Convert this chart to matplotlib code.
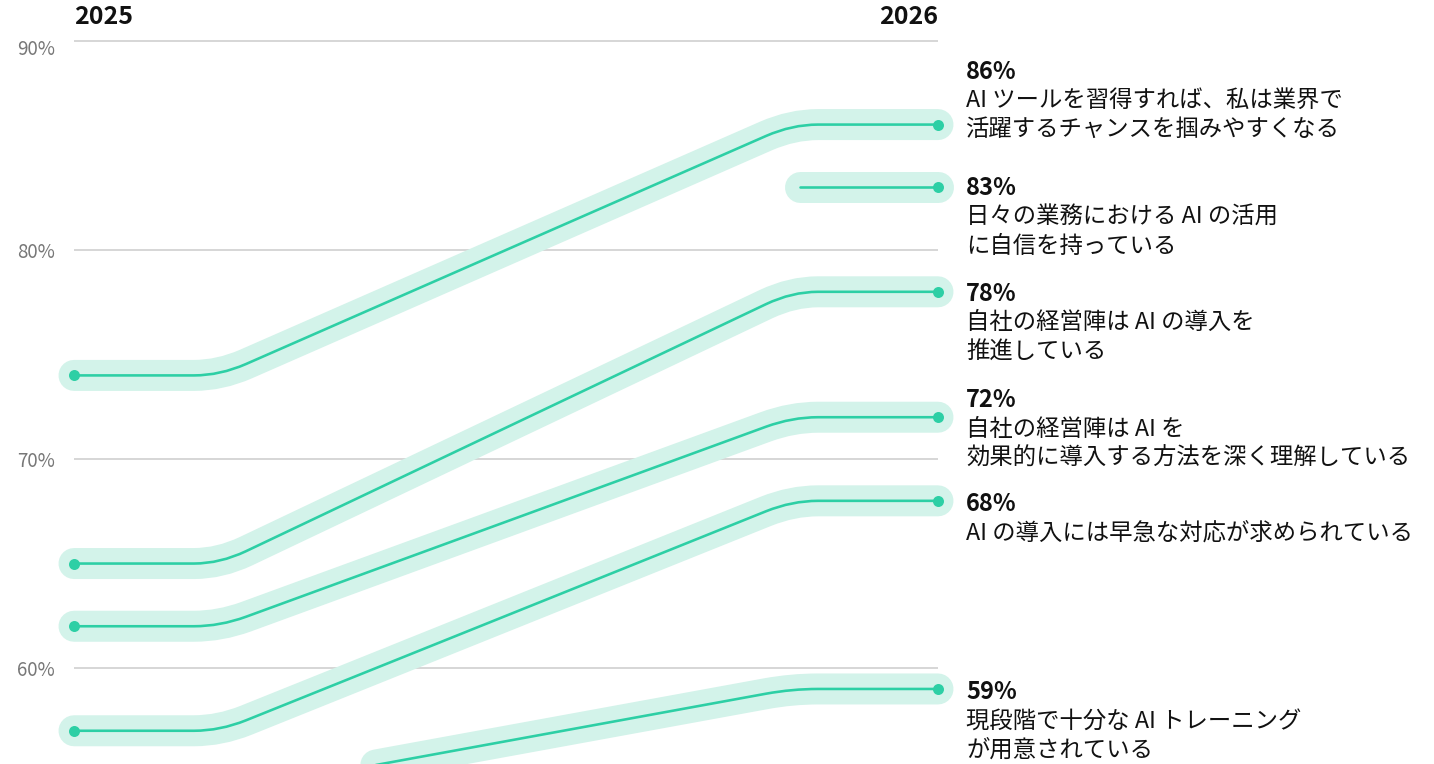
import matplotlib
matplotlib.use("Agg")
import matplotlib.pyplot as plt
from matplotlib.path import Path
from matplotlib.patches import PathPatch
from matplotlib.transforms import ScaledTranslation

plt.rcParams['font.family'] = ['Noto Sans CJK JP', 'DejaVu Sans']

# ---- data ----
years = ["2025", "2026"]
values_2025 = [74, None, 65, 62, 57, 54]
values_2026 = [86, 83, 78, 72, 68, 59]
labels = [
    ["AI ツールを習得すれば、私は業界で", "活躍するチャンスを掴みやすくなる"],
    ["日々の業務における AI の活用", "に自信を持っている"],
    ["自社の経営陣は AI の導入を", "推進している"],
    ["自社の経営陣は AI を", "効果的に導入する方法を深く理解している"],
    ["AI の導入には早急な対応が求められている"],
    ["現段階で十分な AI トレーニング", "が用意されている"],
]
yticks = [60, 70, 80, 90]
ytick_labels = ["60%", "70%", "80%", "90%"]

# ---- style / layout ----
LINE = "#2dcfa5"
GLOW = "#d3f3ea"
GRID = "#cccccc"
W, H, DPI = 1434, 764, 100
PX = 72.0 / DPI  # points per pixel
label_dy_px = [-53, 1, 2, -17, 3, 3]  # label offsets from end point (pixels)

fig = plt.figure(figsize=(W / DPI, H / DPI), dpi=DPI)
ax = fig.add_axes([74 / W, 0, 864 / W, 1])
ax.set_xlim(0, 1)
ax.set_ylim(55.41, 91.96)
for s in ax.spines.values():
    s.set_visible(False)
ax.set_xticks([])
ax.set_yticks(yticks)
ax.set_yticklabels(ytick_labels, fontsize=13.5, color="#777777")
ax.tick_params(axis="y", length=0, pad=19 * PX)
for t in yticks:
    ax.axhline(t, color=GRID, lw=1.1, zorder=0)
# top tick label sits slightly below its gridline
top_lab = ax.get_yticklabels()[-1]
top_lab.set_transform(top_lab.get_transform() +
                      ScaledTranslation(0, -6 / DPI, fig.dpi_scale_trans))

a1, a2, r = 0.169, 0.831, 0.03
start_only = 0.84


def make_path(v0, v1):
    if v0 is None:
        return Path([(start_only, v1), (1, v1)], [Path.MOVETO, Path.LINETO])
    slope = (v1 - v0) / (a2 - a1)
    verts = [
        (0, v0),
        (a1 - r, v0),
        (a1, v0),
        (a1 + r, v0 + slope * r),
        (a2 - r, v1 - slope * r),
        (a2, v1),
        (a2 + r, v1),
        (1, v1),
    ]
    codes = [Path.MOVETO, Path.LINETO, Path.CURVE3, Path.CURVE3,
             Path.LINETO, Path.CURVE3, Path.CURVE3, Path.LINETO]
    return Path(verts, codes)


paths = [make_path(v0, v1) for v0, v1 in zip(values_2025, values_2026)]

for p in paths:
    ax.add_patch(PathPatch(p, fill=False, edgecolor=GLOW, lw=31 * PX,
                           capstyle="round", joinstyle="round",
                           clip_on=False, zorder=1))
for p in paths:
    ax.add_patch(PathPatch(p, fill=False, edgecolor=LINE, lw=2.6 * PX,
                           capstyle="round", joinstyle="round",
                           clip_on=False, zorder=2))

for v0, v1 in zip(values_2025, values_2026):
    if v0 is not None:
        ax.plot([0], [v0], "o", color=LINE, ms=11 * PX, mew=0, zorder=3, clip_on=False)
    ax.plot([1], [v1], "o", color=LINE, ms=11 * PX, mew=0, zorder=3, clip_on=False)

# right-hand labels
for v1, lab, dy in zip(values_2026, labels, label_dy_px):
    ax.annotate(f"{v1}%", xy=(1, v1), xytext=(28 * PX, -dy * PX),
                textcoords="offset points", ha="left", va="center",
                fontsize=17, fontweight="bold", color="#111111",
                annotation_clip=False)
    for i, line in enumerate(lab):
        ax.annotate(line, xy=(1, v1), xytext=(28 * PX, -(dy + 29 * (i + 1)) * PX),
                    textcoords="offset points", ha="left", va="center",
                    fontsize=16.8, color="#111111", annotation_clip=False)

# year headers
ax.text(0, 1 - 17 / H, years[0], transform=ax.get_xaxis_transform(),
        ha="left", va="center", fontsize=18, fontweight="bold", color="#111111")
ax.text(1, 1 - 17 / H, years[1], transform=ax.get_xaxis_transform(),
        ha="right", va="center", fontsize=18, fontweight="bold", color="#111111")

fig.savefig("out.png", dpi=DPI)
